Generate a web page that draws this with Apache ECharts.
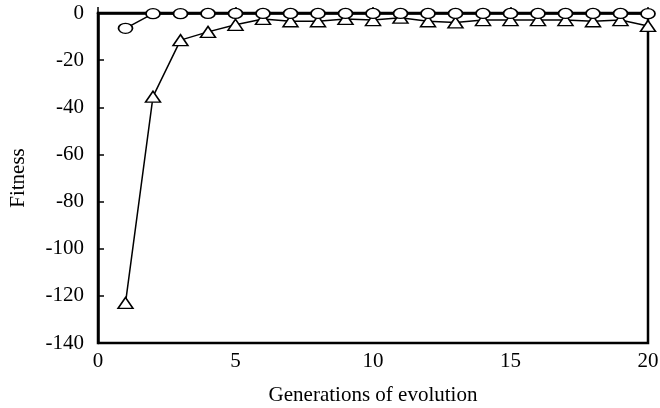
<!DOCTYPE html>
<html lang="en">
<head>
    <meta charset="UTF-8">
    <title>Fitness</title>
    <script src="https://cdn.jsdelivr.net/npm/echarts@6/dist/echarts.min.js"></script>
</head>
<body style="margin:0">
<div id="main" style="width: 660px;height: 408px"></div>
<script type="text/javascript">
    var generations = [1,2,3,4,5,6,7,8,9,10,11,12,13,14,15,16,17,18,19,20];
    var circleFitness = [-6.5,-0.3,-0.3,-0.2,-0.2,-0.2,-0.2,-0.2,-0.2,-0.2,-0.2,-0.2,-0.2,-0.2,-0.2,-0.2,-0.2,-0.2,-0.2,-0.3];
    var triangleFitness = [-123,-35.5,-11.5,-8,-5,-2.5,-3.5,-3.5,-2.5,-3,-2,-3.5,-4,-3,-3,-3,-3,-3.5,-3,-5.5];
    var xTicks = [0, 5, 10, 15, 20];
    var yTicks = [0, -20, -40, -60, -80, -100, -120, -140];

    var font = 'Liberation Serif';
    var myChart = echarts.init(document.getElementById('main'));

    function pairs(ys) {
        return generations.map(function (g, i) { return [g, ys[i]]; });
    }

    var option = {
        animation: false,
        backgroundColor: '#fff',
        grid: {
            left: 98,
            right: 12,
            top: 13,
            bottom: 65,
            outerBoundsMode: 'none',
            show: true,
            borderColor: '#000',
            borderWidth: 2.5
        },
        xAxis: {
            type: 'value',
            min: xTicks[0],
            max: xTicks[xTicks.length - 1],
            interval: 5,
            name: 'Generations of evolution',
            nameLocation: 'middle',
            nameGap: 42,
            nameTextStyle: {color: '#000', fontFamily: font, fontSize: 21},
            splitLine: {show: false},
            axisLine: {lineStyle: {color: '#000', width: 2.5}},
            axisTick: {inside: true, length: 6, lineStyle: {color: '#000', width: 1.5}},
            axisLabel: {color: '#000', fontFamily: font, fontSize: 21, margin: 8}
        },
        yAxis: {
            type: 'value',
            min: yTicks[yTicks.length - 1],
            max: yTicks[0],
            interval: 20,
            name: 'Fitness',
            nameLocation: 'middle',
            nameGap: 69,
            nameRotate: 90,
            nameTextStyle: {color: '#000', fontFamily: font, fontSize: 21},
            splitLine: {show: false},
            axisLine: {show: true, lineStyle: {color: '#000', width: 2.5}},
            axisTick: {show: true, inside: true, length: 6, lineStyle: {color: '#000', width: 1.5}},
            axisLabel: {color: '#000', fontFamily: font, fontSize: 21, margin: 14}
        },
        series: [
            {
                name: 'circle',
                type: 'line',
                data: pairs(circleFitness),
                clip: false,
                symbol: 'circle',
                symbolSize: [14, 10],
                itemStyle: {color: '#fff', borderColor: '#000', borderWidth: 1.5},
                lineStyle: {color: '#000', width: 1.5},
                z: 3
            },
            {
                name: 'triangle',
                type: 'line',
                data: pairs(triangleFitness),
                clip: false,
                symbol: 'triangle',
                symbolSize: [15, 11],
                itemStyle: {color: '#fff', borderColor: '#000', borderWidth: 1.5},
                lineStyle: {color: '#000', width: 1.5},
                z: 2
            }
        ]
    };
    myChart.setOption(option);
</script>
</body>
</html>
